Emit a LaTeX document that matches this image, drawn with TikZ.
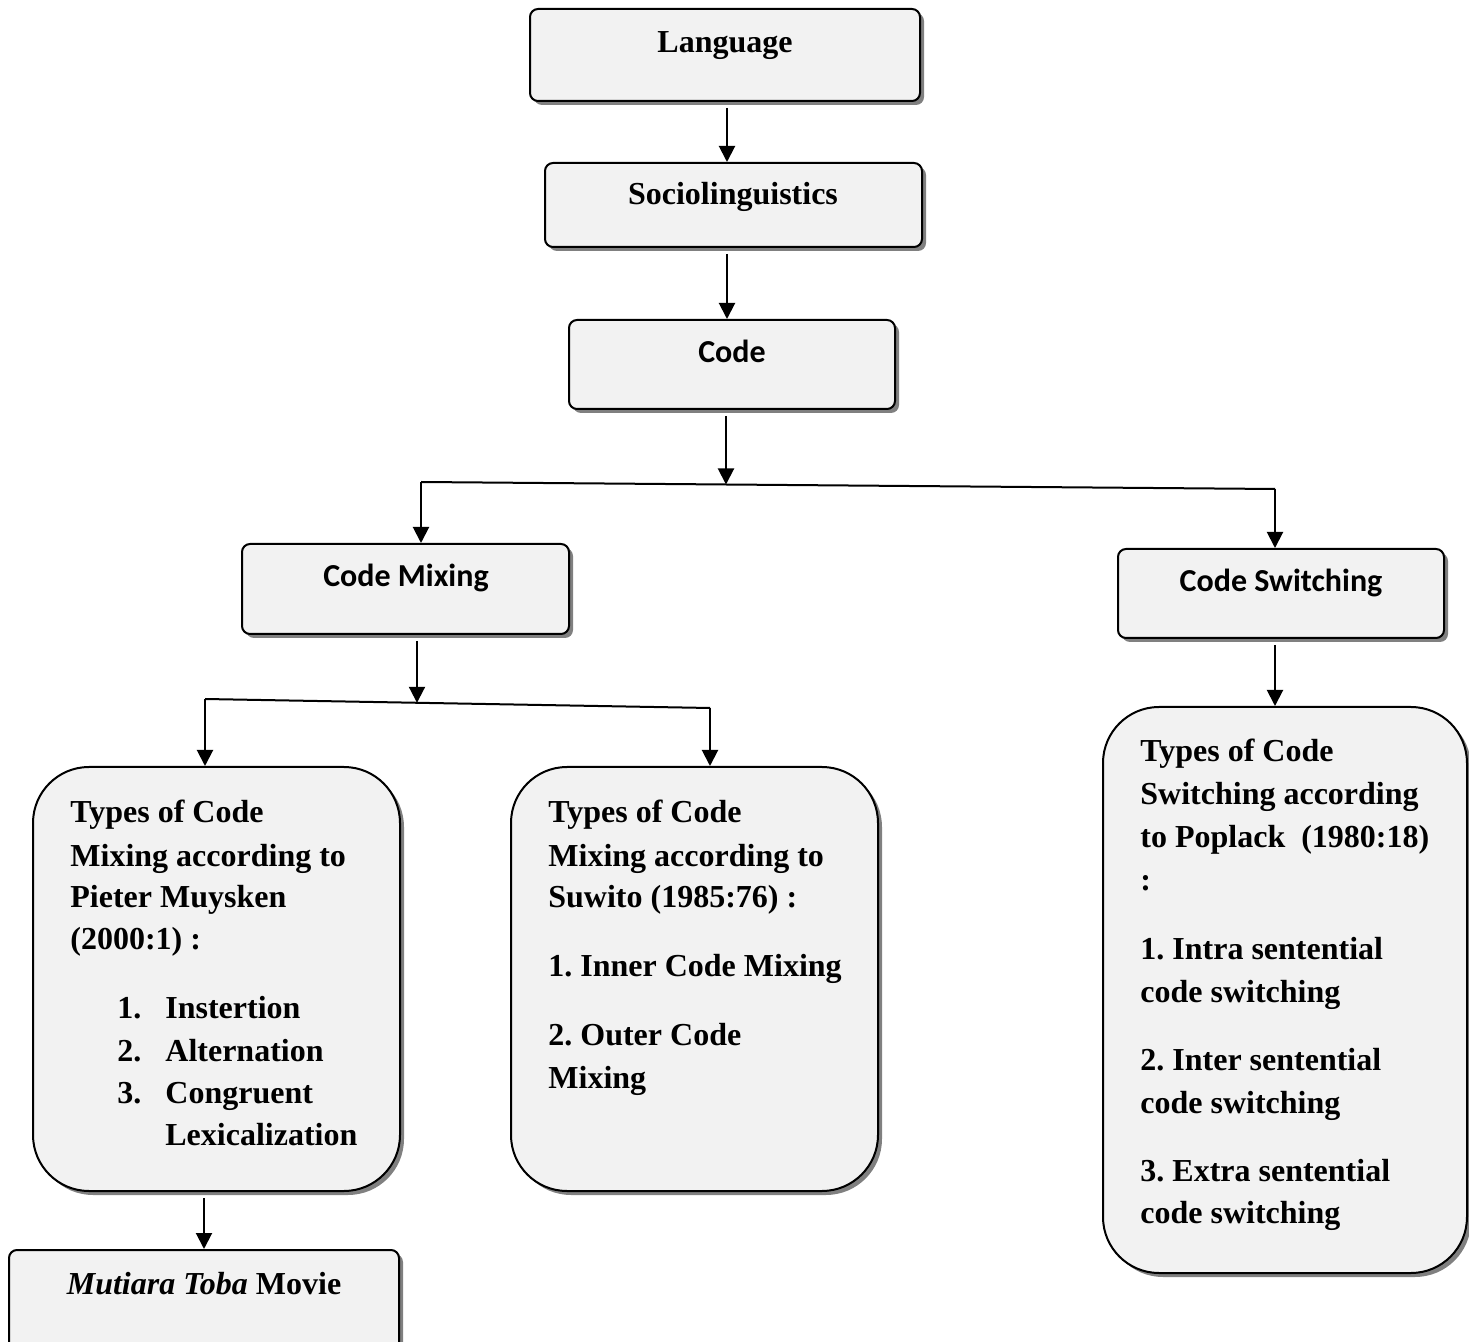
\documentclass[tikz,border=0pt]{standalone}
\usepackage{fontspec}
\setmainfont{Liberation Serif}
\newfontfamily\calfont{Carlito}
\usetikzlibrary{arrows.meta,shadows,fit}
\definecolor{boxfill}{HTML}{F2F2F2}
\definecolor{shadowgray}{HTML}{808080}
\frenchspacing
\begin{document}
\begin{tikzpicture}[x=0.5pt,y=-0.5pt,
  box/.style={draw=black, line width=1pt, fill=boxfill, rounded corners=4pt, inner sep=0pt,
    drop shadow={shadow xshift=2pt, shadow yshift=-2pt, fill=shadowgray, opacity=1}},
  bigbox/.style={box, rounded corners=28pt},
  txt/.style={anchor=base west, inner sep=0pt, font=\fontsize{16}{19}\selectfont\bfseries},
  ctxt/.style={anchor=base, inner sep=0pt, font=\fontsize{16}{19}\selectfont\bfseries},
  cal/.style={ctxt, font=\fontsize{16}{19}\selectfont\calfont\bfseries},
  arr/.style={line width=1pt, -{Triangle[length=8pt,width=8pt]}},
  ln/.style={line width=1pt}
]
\useasboundingbox (0,0) rectangle (1469,1342);
\clip (0,0) rectangle (1469,1342);

% boxes
\node[box, fit={(530,9) (920,101)}] (lang) {};
\node[ctxt] (langT) at (725,53) {Language};
\node[box, fit={(545,163) (922,247)}] (soc) {};
\node[ctxt] (socT) at (733,205) {Sociolinguistics};
\node[box, fit={(569,320) (895,409)}] (code) {};
\node[cal] (codeT) at (732,363) {Code};
\node[box, fit={(242,544) (569,634)}] (cmix) {};
\node[cal] (cmixT) at (406,587) {Code Mixing};
\node[box, fit={(1118,549) (1444,638)}] (csw) {};
\node[cal] (cswT) at (1281,592) {Code Switching};
\node[bigbox, fit={(33,767) (400,1191)}] (muy) {};
\node[bigbox, fit={(511,767) (878,1191)}] (suw) {};
\node[bigbox, fit={(1103,707) (1467,1273)}] (pop) {};
\node[box, fit={(9,1250) (399,1360)}] (mut) {};
\node[ctxt] (mutT) at (204,1294) {\itshape Mutiara Toba\upshape{} Movie};

% texts in the large boxes
\foreach \yy/\tt [count=\i] in {822/{Types of Code}, 866/{Mixing according to}, 907/{Pieter Muysken}, 950/{(2000:1) :}}
  \node[txt] (mu\i) at (70,\yy) {\tt};
\foreach \yy/\tt [count=\i] in {1018/{1.}, 1061/{2.}, 1103/{3.}}
  \node[txt] (mn\i) at (117,\yy) {\tt};
\foreach \yy/\tt [count=\i] in {1018/{Instertion}, 1061/{Alternation}, 1103/{Congruent}, 1145/{Lexicalization}}
  \node[txt] (ml\i) at (165,\yy) {\tt};
\foreach \yy/\tt [count=\i] in {822/{Types of Code}, 866/{Mixing according to}, 907/{Suwito (1985:76) :}, 976/{1. Inner Code Mixing}, 1045/{2. Outer Code}, 1088/{Mixing}}
  \node[txt] (su\i) at (548,\yy) {\tt};
\foreach \yy/\tt [count=\i] in {762/{Types of Code}, 805/{Switching according}, 848/{to Poplack\ \ (1980:18)}, 890/{:}, 959/{1. Intra sentential}, 1002/{code switching}, 1070/{2. Inter sentential}, 1113/{code switching}, 1181/{3. Extra sentential}, 1223/{code switching}}
  \node[txt] (po\i) at (1140,\yy) {\tt};

% connectors
\coordinate (a1) at (727,0);
\coordinate (a2) at (204,0);
\coordinate (j1L) at (421,482);
\coordinate (j1R) at (1275,489);
\coordinate (j1M) at (726,484.5);
\coordinate (j2L) at (205,699);
\coordinate (j2R) at (710,708);
\coordinate (j2M) at (417,702.8);

\draw[arr, shorten <=3pt] (a1 |- lang.south) -- (a1 |- soc.north);
\draw[arr, shorten <=3pt] (a1 |- soc.south) -- (a1 |- code.north);
\draw[arr, shorten <=3pt] (j1M |- code.south) -- (j1M);
\draw[ln] (j1L) -- (j1R);
\draw[arr] (j1L) -- (j1L |- cmix.north);
\draw[arr] (j1R) -- (j1R |- csw.north);
\draw[arr, shorten <=3pt] (j2M |- cmix.south) -- (j2M);
\draw[ln] (j2L) -- (j2R);
\draw[arr] (j2L) -- (j2L |- muy.north);
\draw[arr] (j2R) -- (j2R |- suw.north);
\draw[arr, shorten <=3pt] (j1R |- csw.south) -- (j1R |- pop.north);
\draw[arr, shorten <=3pt] (a2 |- muy.south) -- (a2 |- mut.north);
\end{tikzpicture}
\end{document}
